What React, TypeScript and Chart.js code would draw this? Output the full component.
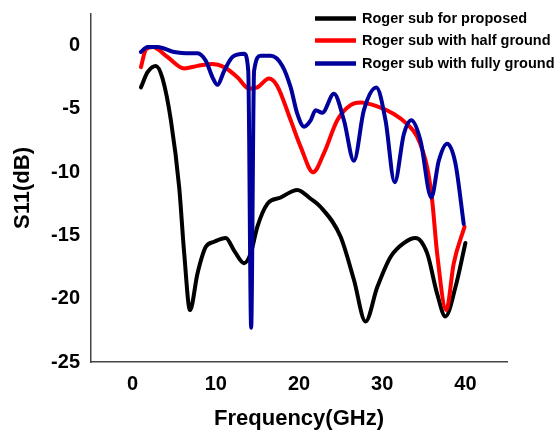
import React, { useEffect, useRef } from "react";
import { Chart, registerables } from "chart.js";

Chart.register(...registerables);

// ---- Data ----
const xTicks = [0, 10, 20, 30, 40];
const yTicks = [-25, -20, -15, -10, -5, 0];

const seriesNames = [
  "Roger sub for proposed",
  "Roger sub with half ground",
  "Roger sub with fully ground",
];

const proposedFreq = [1, 1.8, 2.8, 3.6, 4.6, 5.6, 6.2, 6.9, 7.8, 8.8, 9.8, 11.2, 12.2, 13.4, 14.2, 15, 16.2, 17.8, 19.8, 21.4, 22.6, 25, 26.6, 28, 29.4, 31, 32.6, 34, 35.4, 36.6, 37.6, 38.8, 40];
const proposedS11 = [-3.3, -2.1, -1.6, -2.6, -5.9, -11.2, -16.4, -20.9, -18, -15.9, -15.5, -15.2, -16.2, -17.2, -16.4, -14.3, -12.5, -12, -11.4, -12.1, -12.75, -15.1, -18.5, -21.8, -19.1, -16.7, -15.6, -15.2, -16.4, -19.6, -21.4, -19.1, -15.6];

const halfFreq = [1, 1.6, 2.4, 4.2, 6.2, 7.8, 9.6, 11, 12.6, 14, 15, 16.4, 17.4, 19, 20.2, 21.7, 23, 24.6, 26.2, 27.4, 29.4, 31.4, 33, 34.2, 35.4, 36, 36.6, 37.7, 38.6, 39.9];
const halfS11 = [-1.7, -0.3, -0.1, -0.9, -1.8, -1.6, -1.45, -1.7, -2.5, -3.4, -3.3, -2.6, -3.2, -5.9, -8.0, -10, -8.5, -5.9, -4.7, -4.5, -4.8, -5.4, -6.2, -7.2, -9.6, -12.2, -16.4, -20.9, -17.2, -14.3];

const fullFreq = [1, 1.8, 3, 5, 7, 7.8, 8.8, 9.6, 10.2, 11, 12, 13.4, 13.9, 14.25, 14.6, 15.4, 16.6, 18, 19, 19.8, 20.6, 21.4, 22, 22.8, 24.2, 25.4, 26.6, 27.8, 29.3, 30.4, 31.5, 32.6, 33.5, 34.6, 35.9, 36.8, 37.8, 38.8, 39.8];
const fullS11 = [-0.5, -0.1, -0.1, -0.5, -0.6, -0.6, -1.2, -2.5, -3.1, -2, -0.9, -0.65, -2, -22.3, -2, -0.8, -0.8, -1.6, -3.3, -5.4, -6.4, -5.9, -5.1, -5.3, -3.8, -5.9, -9.1, -5.1, -3.3, -5.9, -10.8, -7, -5.9, -7.5, -12, -9.1, -7.75, -9.3, -14.1];

const colors = ["#000000", "#ff0000", "#00009c"];

const FONT = '"Liberation Sans", Arial, sans-serif';

const toPoints = (xs: number[], ys: number[]) => xs.map((x, i) => ({ x, y: ys[i] }));

const legendPlugin = {
  id: "customLegend",
  afterDraw(chart: any) {
    const ctx = chart.ctx;
    const rows = [18.5, 40.5, 63.5];
    ctx.save();
    seriesNames.forEach((name, i) => {
      ctx.strokeStyle = colors[i];
      ctx.lineWidth = 4.5;
      ctx.beginPath();
      ctx.moveTo(315, rows[i]);
      ctx.lineTo(356, rows[i]);
      ctx.stroke();
      ctx.fillStyle = "#000";
      ctx.font = `bold 14.5px ${FONT}`;
      ctx.textBaseline = "middle";
      ctx.textAlign = "left";
      ctx.fillText(name, 362, rows[i] + 0.5);
    });
    ctx.restore();
  },
};

export default function App() {
  const ref = useRef<HTMLCanvasElement | null>(null);

  useEffect(() => {
    document.body.style.margin = "0";
    const canvas = ref.current;
    if (!canvas) return;
    const datasets = [
      { label: seriesNames[0], data: toPoints(proposedFreq, proposedS11), borderColor: colors[0], order: 2 },
      { label: seriesNames[1], data: toPoints(halfFreq, halfS11), borderColor: colors[1], order: 1 },
      { label: seriesNames[2], data: toPoints(fullFreq, fullS11), borderColor: colors[2], order: 0 },
    ].map((d) => ({
      ...d,
      borderWidth: 4,
      pointRadius: 0,
      fill: false,
      cubicInterpolationMode: "monotone" as const,
      borderCapStyle: "round" as const,
      borderJoinStyle: "round" as const,
    }));

    const chart = new Chart(canvas, {
      type: "line",
      data: { datasets },
      plugins: [legendPlugin],
      options: {
        animation: false,
        responsive: false,
        devicePixelRatio: 1,
        layout: { padding: { top: 14, right: 52, left: 0, bottom: 0 } },
        plugins: { legend: { display: false }, tooltip: { enabled: false } },
        scales: {
          x: {
            type: "linear",
            min: -5,
            max: 45,
            grid: { display: false, drawTicks: false },
            border: { display: true, color: "#444", width: 1.5 },
            afterBuildTicks: (scale: any) => {
              scale.ticks = xTicks.map((v) => ({ value: v }));
            },
            afterFit: (scale: any) => {
              scale.height = 71;
              scale.paddingLeft = 0;
              scale.paddingRight = 0;
            },
            ticks: {
              color: "#000",
              font: { family: FONT, size: 20, weight: "bold" },
              padding: 10,
              maxRotation: 0,
            },
            title: {
              display: true,
              text: "Frequency(GHz)",
              color: "#000",
              font: { family: FONT, size: 22, weight: "bold" },
              padding: { top: 0, bottom: 1 },
            },
          },
          y: {
            type: "linear",
            min: -25,
            max: 2.5,
            grid: { display: false, drawTicks: false },
            border: { display: true, color: "#444", width: 1.5 },
            afterBuildTicks: (scale: any) => {
              scale.ticks = yTicks.map((v) => ({ value: v }));
            },
            afterFit: (scale: any) => {
              scale.width = 91;
              scale.paddingTop = 0;
              scale.paddingBottom = 0;
            },
            ticks: {
              color: "#000",
              font: { family: FONT, size: 20, weight: "bold" },
              padding: 11,
            },
            title: {
              display: true,
              text: "S11(dB)",
              color: "#000",
              font: { family: FONT, size: 22, weight: "bold" },
              padding: { top: 10, bottom: 0 },
            },
          },
        },
      },
    });
    return () => chart.destroy();
  }, []);

  return (
    <div style={{ width: 559, height: 433, position: "relative" }}>
      <canvas ref={ref} width={559} height={433} style={{ display: "block" }} />
    </div>
  );
}
